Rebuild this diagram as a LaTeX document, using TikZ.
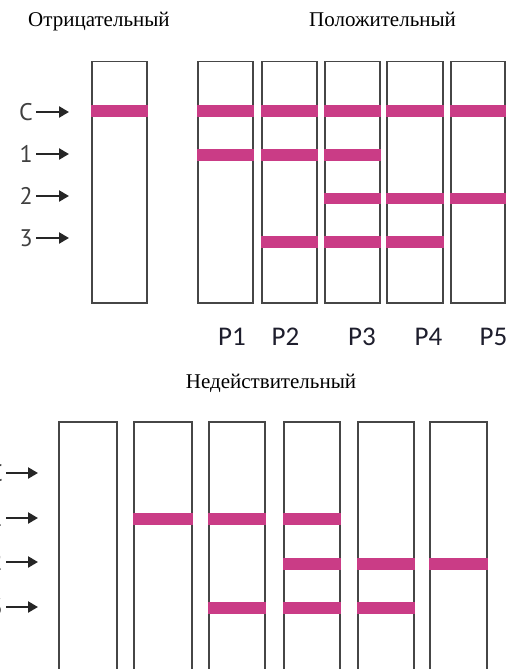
\documentclass[tikz,border=0pt]{standalone}
\usepackage{fontspec}
\setmainfont{Liberation Serif}
\newfontfamily\lblfont{Carlito}
\newfontfamily\rowfont{PT Sans}
\usetikzlibrary{arrows.meta}
\definecolor{band}{RGB}{202,60,134}
\definecolor{edge}{RGB}{70,70,70}
\definecolor{lbl}{RGB}{30,30,45}
\tikzset{
  stripbox/.style={draw=edge,line width=1.8pt,fill=white},
  bandline/.style={fill=band,draw=none},
  title/.style={font=\fontsize{21}{24}\selectfont,inner sep=0pt,anchor=base west},
  plabel/.style={font=\lblfont\fontsize{27}{30}\selectfont,text=lbl,inner sep=0pt,anchor=base},
  rowlabel/.style={font=\rowfont\fontsize{24}{28}\selectfont,text=black!75,inner sep=0pt,anchor=base east},
  rowarrow/.style={draw=black!85,line width=2.3pt,-{Triangle[length=10pt,width=11pt]}}
}
\begin{document}
\begin{tikzpicture}[x=1pt,y=-1pt]
\useasboundingbox (0,0) rectangle (513,669);
% titles
\node[title] (tneg) at (28,27) {Отрицательный};
\node[title] (tpos) at (309,27) {Положительный};
\node[title,anchor=base] (tinv) at (271,388) {Недействительный};
% top row labels
\foreach \t/\y/\n in {C/112/c,1/154/a,2/196/b,3/238/d}{
  \node[rowlabel] (top\n) at (33,\y+8) {\t};
  \coordinate (topa\n) at (69,\y);
  \draw[rowarrow] (36,\y) -- (topa\n);
}
% bottom row labels (cut at left edge, as in the reference)
\foreach \t/\y/\n in {C/473/c,1/518/a,2/562/b,3/607/d}{
  \node[rowlabel] (bot\n) at (3,\y+8) {\t};
  \coordinate (bota\n) at (38,\y);
  \draw[rowarrow] (6,\y) -- (bota\n);
}
% top strips: x-left/x-right/list of band y's
\foreach \xl/\xr/\bands in {92/147/{111},198/253/{111,155},262/317/{111,155,242},325/380/{111,155,198.5,242},387/443/{111,198.5,242},451/505/{111,198.5}}{
  \draw[stripbox] (\xl,61.5) rectangle (\xr,303);
  \foreach \b in \bands {
    \fill[bandline] (\xl-0.6,\b-5.6) rectangle (\xr+0.6,\b+5.6);
  }
}
% P labels
\node[plabel] (p1) at (232,345) {P1};
\node[plabel] (p2) at (285.5,345) {P2};
\node[plabel] (p3) at (362,345) {P3};
\node[plabel] (p4) at (428.5,345) {P4};
\node[plabel] (p5) at (493.5,345) {P5};
% bottom strips
\foreach \xl/\xr/\bands in {59/117/{},134/192/{519},209/265/{519,608},284/340/{519,563.5,608},358/414/{563.5,608},430/487/{563.5}}{
  \draw[stripbox] (\xl,680) -- (\xl,422) -- (\xr,422) -- (\xr,680);
  \foreach \b in \bands {
    \fill[bandline] (\xl-0.6,\b-6) rectangle (\xr+0.6,\b+6);
  }
}
\end{tikzpicture}
\end{document}
